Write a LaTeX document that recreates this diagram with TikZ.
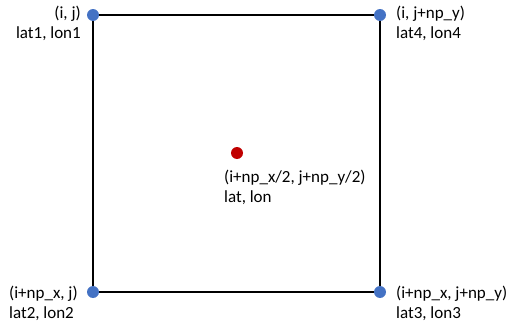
\documentclass[tikz,border=0pt]{standalone}
\usepackage{fontspec}
\setmainfont{Carlito}
\usetikzlibrary{
  calc,
  positioning}
\definecolor{cornerblue}{HTML}{4472C4}
\definecolor{centerred}{HTML}{C00000}

\begin{document}
\begin{tikzpicture}[
  x=1pt,y=-1pt,
  line width=2.4pt,
  corner/.style={circle,fill=cornerblue,inner sep=0pt,minimum size=12pt},
  centre/.style={circle,fill=centerred,inner sep=0pt,minimum size=12pt},
  label/.style={font=\fontsize{17}{19.5}\selectfont,inner sep=1pt}
]%
  \useasboundingbox (0,0) rectangle (507,324);

  \coordinate (tl) at (93,15);
  \coordinate (tr) at (380,15);
  \coordinate (bl) at (93,292);
  \coordinate (br) at (380,292);

  \draw (tl) -- (tr) -- (br) -- (bl) -- cycle;

  \node[corner] (ptl) at (tl) {};
  \node[corner] (ptr) at (tr) {};
  \node[corner] (pbl) at (bl) {};
  \node[corner] (pbr) at (br) {};
  \node[centre] (pc) at (237,153) {};

  \node[label,anchor=east,align=right] (ltl) at (83,23.5) {(i, j)\\lat1, lon1};
  \node[label,anchor=west,align=left] (ltr) at (394,23.5) {(i, j+np\_y)\\lat4, lon4};
  \node[label,anchor=north west,align=left] (lbl) at (7,284) {(i+np\_x, j)\\lat2, lon2};
  \node[label,anchor=north west,align=left] (lbr) at (394,284) {(i+np\_x, j+np\_y)\\lat3, lon3};
  \node[label,anchor=north west,align=left] (lc) at (222,168) {(i+np\_x/2, j+np\_y/2)\\lat, lon};
\end{tikzpicture}
\end{document}
